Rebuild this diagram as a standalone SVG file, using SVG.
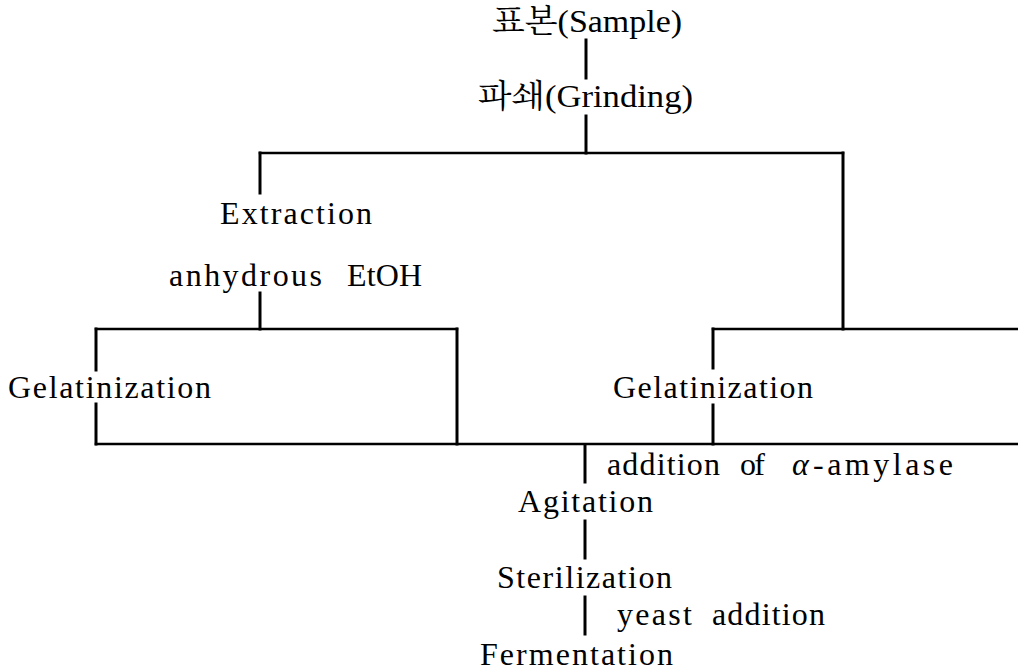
<svg xmlns="http://www.w3.org/2000/svg" width="1018" height="670" viewBox="0 0 1018 670">
<style>
.ln{stroke:#000;stroke-width:2.5;fill:none;stroke-linecap:square}
.v{stroke-width:3}
</style>
<rect width="1018" height="670" fill="#fff"/>
<g id="connectors">
<line class="ln v" x1="586" y1="40" x2="586" y2="78"/>
<line class="ln v" x1="586" y1="116" x2="586" y2="153"/>
<line class="ln" x1="260" y1="153" x2="843" y2="153"/>
<line class="ln v" x1="260" y1="153" x2="260" y2="193"/>
<line class="ln v" x1="260" y1="293" x2="260" y2="329"/>
<line class="ln v" x1="843" y1="153" x2="843" y2="329"/>
<line class="ln" x1="96" y1="329" x2="457" y2="329"/>
<line class="ln v" x1="96" y1="329" x2="96" y2="370"/>
<line class="ln v" x1="96" y1="404" x2="96" y2="444"/>
<line class="ln v" x1="457" y1="329" x2="457" y2="444"/>
<line class="ln" x1="713" y1="329" x2="1018" y2="329"/>
<line class="ln v" x1="713" y1="329" x2="713" y2="368"/>
<line class="ln v" x1="713" y1="405" x2="713" y2="444"/>
<line class="ln" x1="96" y1="444" x2="1018" y2="444"/>
<line class="ln v" x1="585" y1="445" x2="585" y2="482"/>
<line class="ln v" x1="585" y1="521" x2="585" y2="558"/>
<line class="ln v" x1="585" y1="597" x2="585" y2="634"/>
</g>
<g font-family="'Liberation Serif', 'Noto Serif CJK KR', 'Noto Sans CJK KR', serif" font-size="32" fill="#000">
<g id="sample"><text x="492" y="32" textLength="190" lengthAdjust="spacingAndGlyphs">표본(Sample)</text></g>
<g id="grinding"><text x="478" y="107" textLength="215" lengthAdjust="spacingAndGlyphs">파쇄(Grinding)</text></g>
<g id="extraction"><text x="220" y="224" textLength="152" lengthAdjust="spacing">Extraction</text></g>
<g id="ethanol"><text y="286"><tspan x="169" textLength="153" lengthAdjust="spacing">anhydrous</tspan><tspan x="347" textLength="75" lengthAdjust="spacing">EtOH</tspan></text></g>
<g id="gelatinization-left"><text x="8" y="398" textLength="203" lengthAdjust="spacing">Gelatinization</text></g>
<g id="gelatinization-right"><text x="613" y="398" textLength="200" lengthAdjust="spacing">Gelatinization</text></g>
<g id="amylase"><text y="475"><tspan x="607" textLength="113" lengthAdjust="spacing">addition</tspan><tspan x="740" textLength="25" lengthAdjust="spacing">of</tspan><tspan x="792" font-style="italic">α</tspan><tspan x="813" textLength="140" lengthAdjust="spacing">-amylase</tspan></text></g>
<g id="agitation"><text x="518" y="512" textLength="135" lengthAdjust="spacing">Agitation</text></g>
<g id="sterilization"><text x="497" y="588" textLength="175" lengthAdjust="spacing">Sterilization</text></g>
<g id="yeast"><text y="625"><tspan x="617" textLength="75" lengthAdjust="spacing">yeast</tspan><tspan x="712" textLength="113" lengthAdjust="spacing">addition</tspan></text></g>
<g id="fermentation"><text x="480" y="665" textLength="193" lengthAdjust="spacing">Fermentation</text></g>
</g>
</svg>
